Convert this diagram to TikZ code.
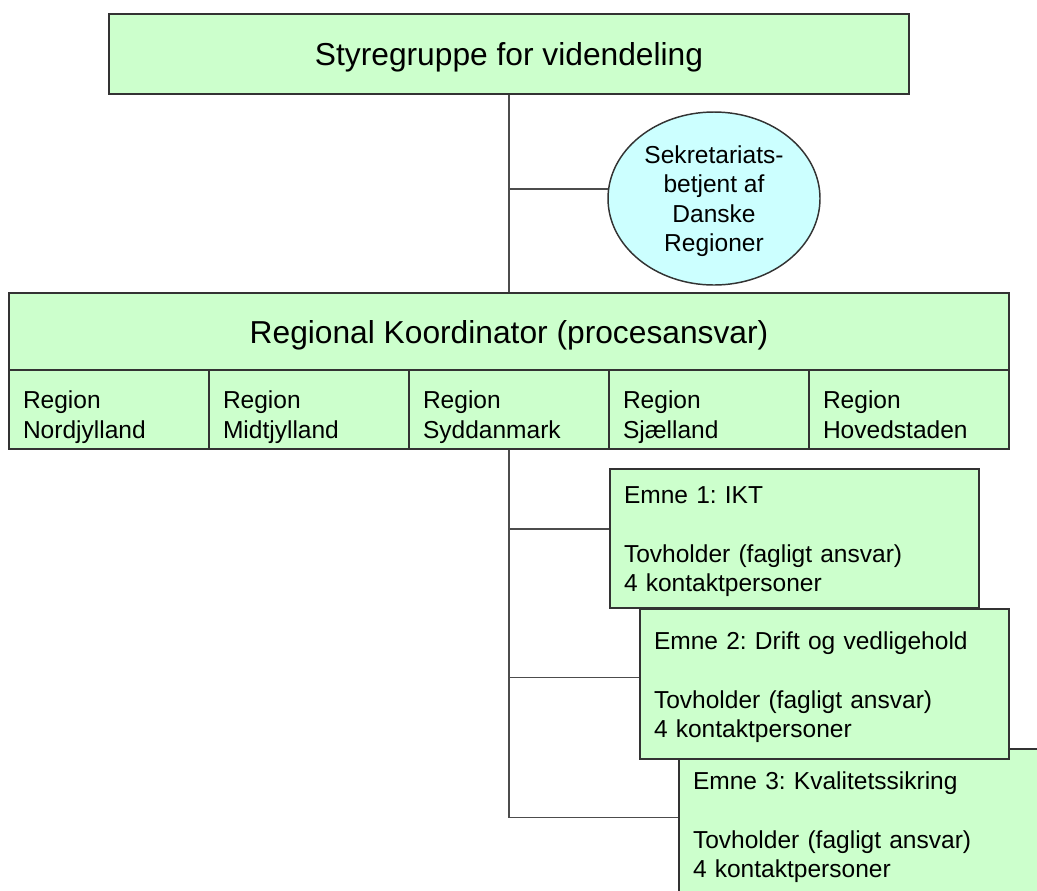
\documentclass[tikz,border=0pt]{standalone}
\usepackage{fontspec}
\setmainfont{Liberation Sans}
\frenchspacing
\usetikzlibrary{shapes.geometric}
\definecolor{boxgreen}{HTML}{CCFFCC}
\definecolor{ovalblue}{HTML}{CCFFFF}
\begin{document}
\begin{tikzpicture}[x=.75pt,y=-.75pt,
  box/.style={draw=black!80,line width=1.1pt,fill=boxgreen,inner sep=0pt},
  bigtext/.style={font=\fontsize{23.8}{28}\selectfont,text depth=0pt},
  smalltext/.style={font=\fontsize{18.4}{22}\selectfont},
  cell/.style={box,font=\fontsize{18.4}{22.5}\selectfont,minimum width=150pt,minimum height=59.25pt,
    text width=129pt,align=left,inner xsep=10.5pt,text height=24pt,text depth=25.8pt},
  topic/.style={box,smalltext,minimum width=276.75pt,text width=255.75pt,align=left,inner xsep=10.5pt,
    text height=13pt,text depth=65pt},
  link/.style={draw=black!70,line width=1.1pt}]
\useasboundingbox (0,0) rectangle (1037,890);

\node[box,bigtext,minimum width=600pt,minimum height=60pt] (styre) at (509,54) {Styregruppe for videndeling};
\node[ellipse,draw=black!80,line width=1.1pt,fill=ovalblue,smalltext,text depth=0pt,align=center,inner sep=0pt,
  minimum width=159pt,minimum height=129.75pt] (sekr) at (714,198.5) {Sekretariats-\\betjent af\\Danske\\Regioner};
\node[box,bigtext,minimum width=750pt,minimum height=57.75pt] (koord) at (509,331.5) {Regional Koordinator (procesansvar)};
\foreach \reg [count=\i] in {Nordjylland,Midtjylland,Syddanmark,Sjælland,Hovedstaden}
{
   \node[cell] (r\i) at (-91+200*\i,409.5) {Region\\\reg};
}

\node[topic,minimum height=104.25pt] (emne1) at (794.5,538.5) {Emne 1: IKT\\~\\Tovholder (fagligt ansvar)\\4 kontaktpersoner};
\node[topic,minimum height=112.5pt] (emne3) at (863.5,824) {Emne 3: Kvalitetssikring\\~\\Tovholder (fagligt ansvar)\\4 kontaktpersoner};
\node[topic,minimum height=112.5pt] (emne2) at (824.5,684) {Emne 2: Drift og vedligehold\\~\\Tovholder (fagligt ansvar)\\4 kontaktpersoner};

\draw[link] (styre) -- (koord);
\draw[link] (sekr.175 -| styre.south) -- (sekr.175);
\draw[link] (r3.south) |- (emne3.178);
\draw[link] (r3.south |- emne1.177) -- (emne1.177);
\draw[link] (r3.south |- emne2.178) -- (emne2.178);

\end{tikzpicture}
\end{document}
